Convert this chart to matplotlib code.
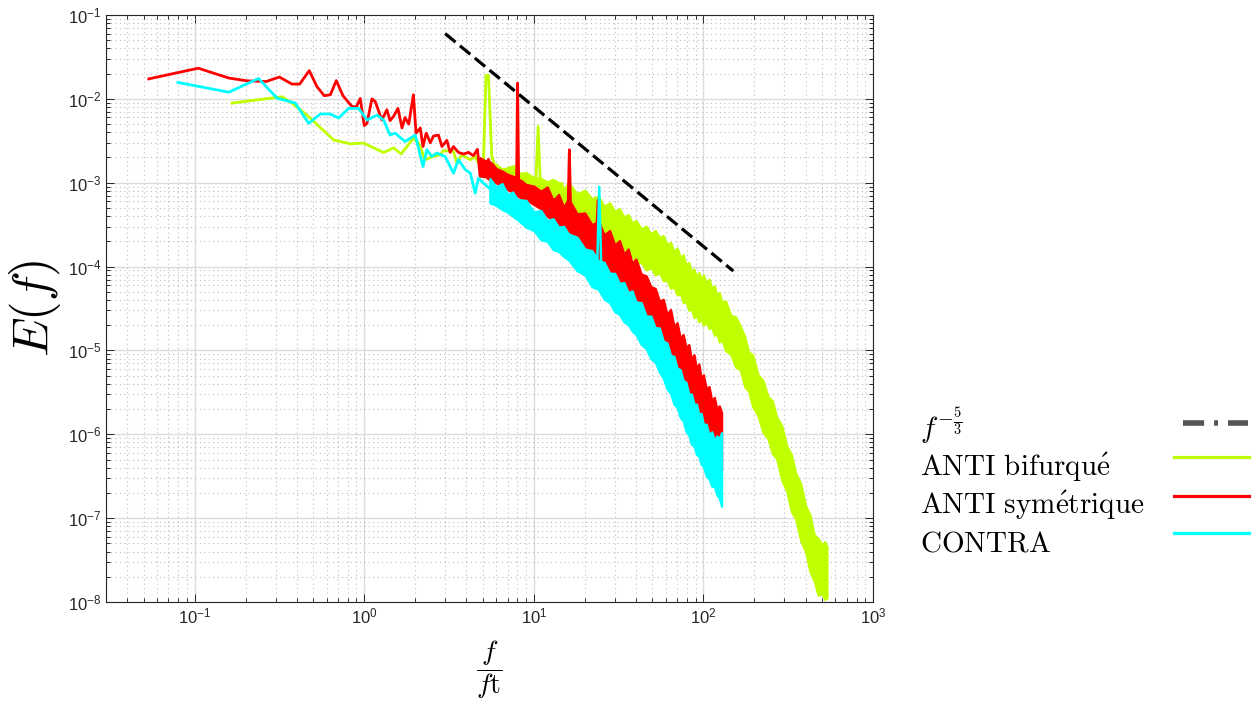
import numpy as np
import matplotlib
matplotlib.use('Agg')
import matplotlib.pyplot as plt
from matplotlib.lines import Line2D
from matplotlib.ticker import LogLocator, NullFormatter

# ---- data (f/ft, E(f)) ----
# low / mid frequency part, drawn as lines
green_f = [0.166, 0.327, 0.375, 0.459, 0.659, 0.826, 0.99, 1.30, 1.49, 1.65, 1.95, 2.09,
           2.29, 2.56, 2.80, 2.93, 3.36, 3.52, 3.76, 4.22, 4.51, 4.83, 5.05, 5.22, 5.40,
           5.65, 5.91, 6.32, 6.62, 7.25, 7.76, 8.30, 9.09, 9.95, 10.3, 10.6, 10.9, 11.1,
           12.5, 13.7, 14.6, 15.6, 17.1, 18.7, 20.5, 22.5]
green_E = [0.0089, 0.0106, 0.0089, 0.0064, 0.00324, 0.00291, 0.00297, 0.00229, 0.0026, 0.0022,
           0.0034, 0.00297, 0.00188, 0.00206, 0.00215, 0.00242, 0.00236, 0.00171, 0.00215,
           0.00188, 0.00206, 0.00156, 0.00188, 0.019, 0.019, 0.00206, 0.00156, 0.0013,
           0.00143, 0.00114, 0.00156, 0.00099, 0.00108, 0.00099, 0.0011, 0.00468, 0.0011,
           0.00079, 0.00082, 0.00075, 0.00099, 0.00057, 0.00075, 0.000625, 0.000686, 0.00052]

red_f = [0.0536, 0.105, 0.159, 0.204, 0.264, 0.316, 0.375, 0.416, 0.474, 0.526, 0.581, 0.631,
         0.684, 0.749, 0.847, 0.897, 0.947, 1.00, 1.037, 1.11, 1.16, 1.27, 1.36, 1.42, 1.49,
         1.58, 1.67, 1.74, 1.83, 1.95, 2.02, 2.14, 2.22, 2.32, 2.45, 2.56, 2.74, 2.87, 3.07,
         3.21, 3.36, 3.59, 3.85, 4.12, 4.40, 4.65, 4.82, 5.05, 5.40, 5.91, 6.33, 6.93, 7.59,
         7.90, 8.02, 8.15, 8.24, 9.1, 9.96, 10.9, 11.9, 13.1, 14.3, 15.9, 16.2, 16.5]
red_E = [0.0173, 0.0232, 0.0177, 0.0164, 0.0161, 0.0182, 0.0150, 0.0150, 0.0217, 0.0140,
         0.0109, 0.0112, 0.0165, 0.0109, 0.0081, 0.0080, 0.0101, 0.0048, 0.0051, 0.0100,
         0.0093, 0.0056, 0.0074, 0.0055, 0.0062, 0.0077, 0.0045, 0.0060, 0.0050, 0.0112,
         0.0039, 0.0045, 0.0027, 0.0039, 0.0030, 0.0036, 0.0037, 0.0027, 0.0032, 0.0023,
         0.0027, 0.0023, 0.0022, 0.0023, 0.0021, 0.0025, 0.0012, 0.0014, 0.0019, 0.0011,
         0.0013, 0.0009, 0.00099, 0.0008, 0.0154, 0.0008, 0.00075, 0.00082, 0.00063,
         0.00069, 0.00057, 0.00063, 0.00052, 0.00045, 0.00247, 0.00042]
red_spike_f = [23.3, 23.9, 24.5]
red_spike_E = [0.00018, 0.00062, 0.00018]

cyan_f = [0.0798, 0.159, 0.238, 0.306, 0.392, 0.470, 0.551, 0.631, 0.706, 0.808, 0.925, 1.04,
          1.19, 1.30, 1.42, 1.52, 1.74, 2.0, 2.22, 2.34, 2.5, 2.68, 3.0, 3.36, 3.59, 3.94,
          4.22, 4.51, 4.71, 5.05, 5.5]
cyan_E = [0.0157, 0.0120, 0.0175, 0.0102, 0.0089, 0.0051, 0.0066, 0.0066, 0.0059, 0.0077,
          0.0077, 0.0056, 0.0064, 0.0056, 0.0037, 0.0039, 0.0031, 0.0037, 0.00156, 0.00247,
          0.00205, 0.00226, 0.00205, 0.0013, 0.00188, 0.00143, 0.0013, 0.00075, 0.00113,
          0.00099, 0.00085]
cyan_spike_f = [23.6, 24.3, 25.0]
cyan_spike_E = [0.00009, 0.00089, 0.00009]

# high frequency part: upper / lower edge of the noisy band, as log10 E
green_band_f = [6, 6.5, 7, 7.5, 8, 9, 10, 11, 12, 13,
                14, 15, 16, 18, 20, 22, 24, 26, 28, 30, 32, 34, 36, 38, 40, 43, 46, 49, 52, 55,
                58, 61, 64, 67, 70, 73, 76, 79, 82, 85, 88, 91, 94, 97, 100, 104, 108, 112,
                116, 120, 124, 128, 135, 145, 155, 165, 175, 185, 195, 210, 225, 240, 255,
                270, 290, 310, 330, 350, 375, 400, 425, 450, 475, 500, 520, 535]
green_band_hi = [-2.78, -2.84, -2.82, -2.80, -2.89, -2.88, -2.94, -2.95, -2.99, -2.96,
                 -3.00, -3.08, -3.00, -3.13, -3.09, -3.19, -3.16, -3.28, -3.24, -3.34, -3.31,
                 -3.41, -3.38, -3.48, -3.45, -3.55, -3.52, -3.61, -3.57, -3.65, -3.63, -3.74,
                 -3.71, -3.82, -3.78, -3.89, -3.86, -3.98, -3.95, -4.06, -4.03, -4.13, -4.07,
                 -4.16, -4.10, -4.20, -4.15, -4.26, -4.23, -4.34, -4.31, -4.42, -4.41, -4.58,
                 -4.60, -4.71, -4.83, -5.02, -5.05, -5.29, -5.36, -5.55, -5.60, -5.79, -5.90,
                 -6.14, -6.24, -6.46, -6.59, -6.85, -6.96, -7.20, -7.24, -7.32, -7.28, -7.34]
green_band_lo = [-2.95, -2.99, -3.01, -3.04, -3.05, -3.07, -3.09, -3.12, -3.15, -3.21,
                 -3.34, -3.38, -3.47, -3.45, -3.56, -3.53, -3.64, -3.62, -3.74, -3.70, -3.81,
                 -3.78, -3.89, -3.87, -3.96, -3.95, -4.04, -4.01, -4.10, -4.07, -4.17, -4.16,
                 -4.26, -4.24, -4.34, -4.32, -4.43, -4.42, -4.52, -4.51, -4.61, -4.58, -4.66,
                 -4.62, -4.70, -4.66, -4.74, -4.72, -4.82, -4.80, -4.90, -4.87, -5.00, -5.05,
                 -5.20, -5.23, -5.43, -5.49, -5.67, -5.78, -5.98, -6.05, -6.23, -6.29, -6.55,
                 -6.68, -6.92, -7.01, -7.27, -7.40, -7.64, -7.75, -7.92, -7.90, -7.97, -7.95]

red_band_f = [4.8, 5.2, 5.6, 6, 6.5, 7, 7.5, 8.5, 9, 10, 11,
              12, 13, 14, 15, 16, 18, 20, 22, 24, 26, 28, 30, 32, 34, 36, 38, 40, 43, 46, 49,
              52, 55, 58, 61, 64, 67, 70, 73, 76, 79, 82, 85, 88, 91, 94, 97, 100, 104, 108,
              112, 116, 120, 124, 128]
red_band_hi = [-2.70, -2.74, -2.76, -2.83, -2.86, -2.90, -2.92, -2.98, -3.02, -3.04, -3.10,
               -3.05, -3.21, -3.14, -3.29, -3.19, -3.37, -3.36, -3.50, -3.46, -3.62, -3.57,
               -3.74, -3.69, -3.85, -3.79, -3.96, -3.91, -4.09, -4.11, -4.24, -4.26, -4.41,
               -4.39, -4.57, -4.51, -4.71, -4.67, -4.85, -4.81, -4.97, -4.93, -5.11, -5.05,
               -5.22, -5.16, -5.33, -5.29, -5.46, -5.43, -5.60, -5.56, -5.70, -5.66, -5.74]
red_band_lo = [-2.92, -2.93, -2.98, -3.00, -3.05, -3.08, -3.12, -3.19, -3.20, -3.26, -3.31,
               -3.40, -3.45, -3.50, -3.54, -3.60, -3.70, -3.78, -3.84, -3.91, -3.98, -4.05,
               -4.13, -4.19, -4.25, -4.30, -4.36, -4.41, -4.53, -4.59, -4.72, -4.75, -4.88,
               -4.92, -5.02, -5.08, -5.18, -5.23, -5.33, -5.37, -5.47, -5.52, -5.61, -5.65,
               -5.74, -5.78, -5.86, -5.91, -6.00, -6.06, -6.15, -6.20, -6.29, -6.33, -6.42]

cyan_band_f = [5.5, 6, 6.5, 7, 7.5, 8, 9, 10, 11, 12, 13, 14, 15, 16, 18, 20, 22, 24, 26, 28,
               30, 32, 34, 36, 38, 40, 43, 46, 49, 52, 55, 58, 61, 64, 67, 70, 73, 76, 79, 82,
               85, 88, 91, 94, 97, 100, 104, 108, 112, 116, 120, 124, 128]
cyan_band_hi = [-2.95, -3.05, -3.01, -3.14, -3.11, -3.20, -3.21, -3.35, -3.33, -3.45, -3.43,
                -3.53, -3.52, -3.61, -3.65, -3.79, -3.81, -3.93, -3.95, -4.08, -4.08, -4.20,
                -4.19, -4.31, -4.29, -4.42, -4.43, -4.59, -4.59, -4.73, -4.73, -4.89, -4.91,
                -5.06, -5.07, -5.21, -5.23, -5.36, -5.38, -5.52, -5.52, -5.64, -5.64, -5.76,
                -5.75, -5.88, -5.88, -6.01, -5.97, -6.07, -6.02, -6.05, -5.98]
cyan_band_lo = [-3.24, -3.27, -3.32, -3.35, -3.40, -3.44, -3.53, -3.57, -3.68, -3.70, -3.80,
                -3.82, -3.88, -3.92, -4.05, -4.10, -4.24, -4.27, -4.39, -4.43, -4.54, -4.57,
                -4.66, -4.69, -4.77, -4.81, -4.93, -4.98, -5.10, -5.14, -5.26, -5.33, -5.46,
                -5.51, -5.64, -5.68, -5.80, -5.84, -5.97, -6.01, -6.12, -6.14, -6.24, -6.26,
                -6.36, -6.38, -6.50, -6.53, -6.62, -6.62, -6.72, -6.76, -6.86]

# f^(-5/3) reference line end points
ref_f = [3.0, 150.0]
ref_E = [0.06, 8.85e-5]

labels = [r'$f^{-\frac{5}{3}}$', r'$\mathrm{ANTI\ bifurqu\acute{e}}$',
          r'$\mathrm{ANTI\ sym\acute{e}trique}$', r'$\mathrm{CONTRA}$']

GREEN = '#BFFF00'
RED = '#FF0000'
CYAN = '#00FFFF'

plt.rcParams['font.family'] = ['Liberation Sans', 'DejaVu Sans']

W, H = 1253, 707
fig = plt.figure(figsize=(W / 100, H / 100), dpi=100)
ax = fig.add_axes([106 / W, 1 - 602 / H, (873 - 106) / W, (602 - 15) / H])


def draw_series(f, E, band_f, band_hi, band_lo, color):
    bf = np.array(band_f)
    ax.fill_between(bf, 10 ** np.array(band_lo), 10 ** np.array(band_hi),
                    facecolor=color, edgecolor=color, linewidth=1.6, zorder=2)
    ax.plot(f, E, color=color, lw=2.0, zorder=2)


draw_series(green_f, green_E, green_band_f, green_band_hi, green_band_lo, GREEN)
draw_series(red_f, red_E, red_band_f, red_band_hi, red_band_lo, RED)
ax.plot(red_spike_f, red_spike_E, color=RED, lw=2.0, zorder=2)
draw_series(cyan_f, cyan_E, cyan_band_f, cyan_band_hi, cyan_band_lo, CYAN)
ax.plot(cyan_spike_f, cyan_spike_E, color=CYAN, lw=1.8, zorder=2)

ax.plot(ref_f, ref_E, color='black', lw=2.3, ls=(0, (4.2, 1.8)), zorder=3)

ax.set_xscale('log')
ax.set_yscale('log')
ax.set_xlim(0.03, 1000)
ax.set_ylim(1e-8, 1e-1)

for axis in (ax.xaxis, ax.yaxis):
    axis.set_major_locator(LogLocator(base=10, numticks=20))
    axis.set_minor_locator(LogLocator(base=10, subs=np.arange(2, 10), numticks=200))
    axis.set_minor_formatter(NullFormatter())

ax.grid(True, which='major', color='#dcdcdc', lw=1.0, ls='-', zorder=0)
ax.grid(True, which='minor', color='#bdbdbd', lw=0.8, ls=(0, (1, 3)), zorder=0)
ax.set_axisbelow(True)

ax.tick_params(which='both', direction='in', top=True, right=True,
               colors='#262626', labelsize=12, width=0.7)
ax.tick_params(which='major', length=6)
ax.tick_params(which='minor', length=3)
for sp in ax.spines.values():
    sp.set_color('#262626')
    sp.set_linewidth(0.8)

ax.set_ylabel(r'$E(f)$', fontsize=36, math_fontfamily='cm')
ax.yaxis.set_label_coords(-0.056, 0.5)
ax.set_xlabel(r'$\dfrac{f}{f\mathrm{t}}$', fontsize=20, math_fontfamily='cm')
ax.xaxis.set_label_coords(0.4993, -0.062)

# legend: text left-aligned, samples in a column on the right
text_x = 920
baselines = [437, 476, 514, 552]
sample_y = [423, 457, 496, 533]
for lab, yb in zip(labels, baselines):
    fig.text(text_x / W, 1 - yb / H, lab, ha='left', va='baseline',
             fontsize=21, math_fontfamily='cm', color='black')

fig.add_artist(Line2D([1183 / W, 1248 / W], [1 - sample_y[0] / H] * 2,
                      transform=fig.transFigure, color='#555555', lw=4.0,
                      ls=(0, (3.8, 1.8, 0.7, 1.8))))
for c, yy in zip([GREEN, RED, CYAN], sample_y[1:]):
    fig.add_artist(Line2D([1174 / W, 1249 / W], [1 - yy / H] * 2,
                          transform=fig.transFigure, color=c, lw=2.3))

fig.savefig('out.png', dpi=100)
